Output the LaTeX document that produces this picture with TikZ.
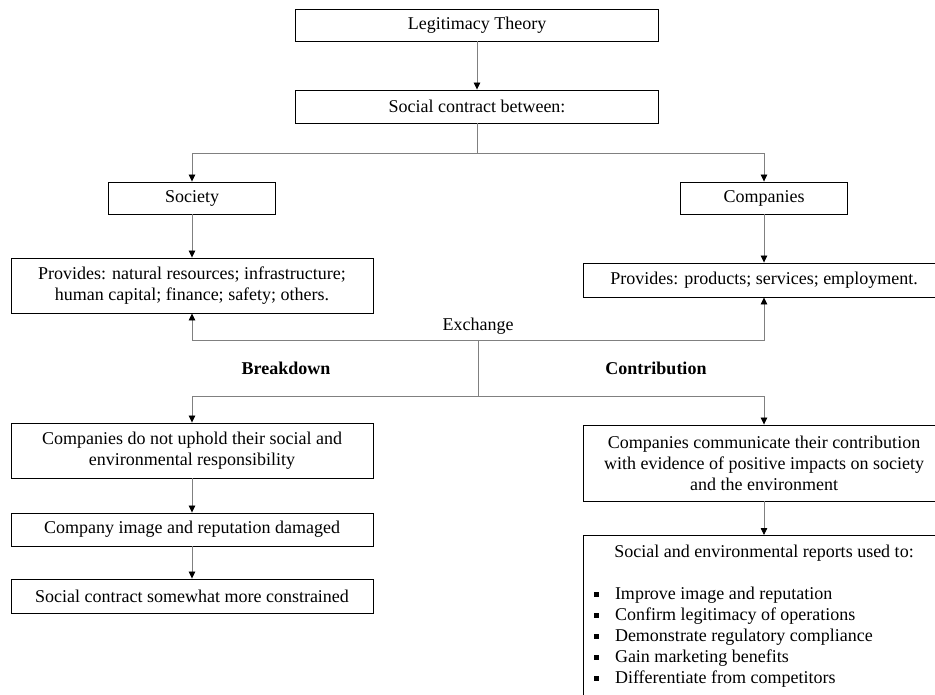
\documentclass[tikz,border=0pt]{standalone}
\usepackage{fontspec}
\setmainfont{Liberation Serif}
\usetikzlibrary{arrows.meta,shadows}

% small filled square used as list marker
\newcommand{\sqbul}{\makebox[21pt][l]{\raisebox{3pt}{\rule{5pt}{5pt}}}}

\begin{document}
\begin{tikzpicture}[x=1pt,y=-1pt,
  box/.style={draw=black,line width=0.9pt,fill=white,inner sep=0pt,align=center,
    font=\fontsize{18}{21}\selectfont,
    drop shadow={shadow xshift=0.9pt,shadow yshift=-0.9pt,fill=black,opacity=1}},
  conn/.style={draw=black!50,line width=0.8pt,
    -{Triangle[length=7pt,width=6.5pt,color=black]}},
  link/.style={draw=black!50,line width=0.8pt},
  lbl/.style={font=\fontsize{18}{21}\selectfont,inner sep=0pt}]

\useasboundingbox (0,0) rectangle (935,694);
\clip (0,0) rectangle (935,694);

% top of the chart
\node[box,minimum width=363pt,minimum height=32pt] (lt) at (477,25) {Legitimacy Theory};
\node[box,minimum width=363pt,minimum height=33pt] (sc) at (477,106.5) {Social contract between:};

% the two parties
\node[box,minimum width=166.5pt,minimum height=32pt] (soc) at (192,198) {Society};
\node[box,minimum width=166.5pt,minimum height=32pt] (comp) at (764,198) {Companies};

\node[box,minimum width=362pt,minimum height=55pt] (sprov) at (192,285.5)
  {Provides: natural resources; infrastructure;\\human capital; finance; safety; others.};
\node[box,minimum width=362pt,minimum height=34pt] (cprov) at (764,280)
  {Provides: products; services; employment.};

% breakdown branch
\node[box,minimum width=362pt,minimum height=55pt] (b1) at (192,450.5)
  {Companies do not uphold their social and\\environmental responsibility};
\node[box,minimum width=362pt,minimum height=33pt] (b2) at (192,529.5)
  {Company image and reputation damaged};
\node[box,minimum width=362pt,minimum height=34pt] (b3) at (192,596)
  {Social contract somewhat more constrained};

% contribution branch
\node[box,minimum width=362pt,minimum height=76pt] (c1) at (764,463)
  {Companies communicate their contribution\\with evidence of positive impacts on society\\and the environment};
\node[box,anchor=north] (c2) at (764,535)
  {\parbox[t][175pt][t]{362pt}{\vspace*{10pt}\centering
    Social and environmental reports used to:\par
    \vspace{21pt}\raggedright\leftskip=11pt
    \sqbul Improve image and reputation\\
    \sqbul Confirm legitimacy of operations\\
    \sqbul Demonstrate regulatory compliance\\
    \sqbul Gain marketing benefits\\
    \sqbul Differentiate from competitors}};

% labels
\node[lbl] (exch) at (478,326) {Exchange};
\node[lbl,font=\fontsize{18}{21}\selectfont\bfseries] (brk) at (286,368) {Breakdown};
\node[lbl,font=\fontsize{18}{21}\selectfont\bfseries] (ctb) at (656,368) {Contribution};

% junction points
\coordinate (j1) at (477,153);
\coordinate (j2) at (478,340);
\coordinate (j3) at (478,396);

% connectors
\draw[conn] (lt) -- (sc);
\draw[link] (sc.south) -- (j1);
\draw[conn] (j1) -| (soc.north);
\draw[conn] (j1) -| (comp.north);
\draw[conn] (soc.south) -- (soc.south |- sprov.north);
\draw[conn] (comp.south) -- (comp.south |- cprov.north);
\draw[conn] (j2) -| (sprov.south);
\draw[conn] (j2) -| (cprov.south);
\draw[link] (j2) -- (j3);
\draw[conn] (j3) -| (b1.north);
\draw[conn] (j3) -| (c1.north);
\draw[conn] (b1) -- (b2);
\draw[conn] (b2) -- (b3);
\draw[conn] (c1) -- (c2);
\end{tikzpicture}
\end{document}
